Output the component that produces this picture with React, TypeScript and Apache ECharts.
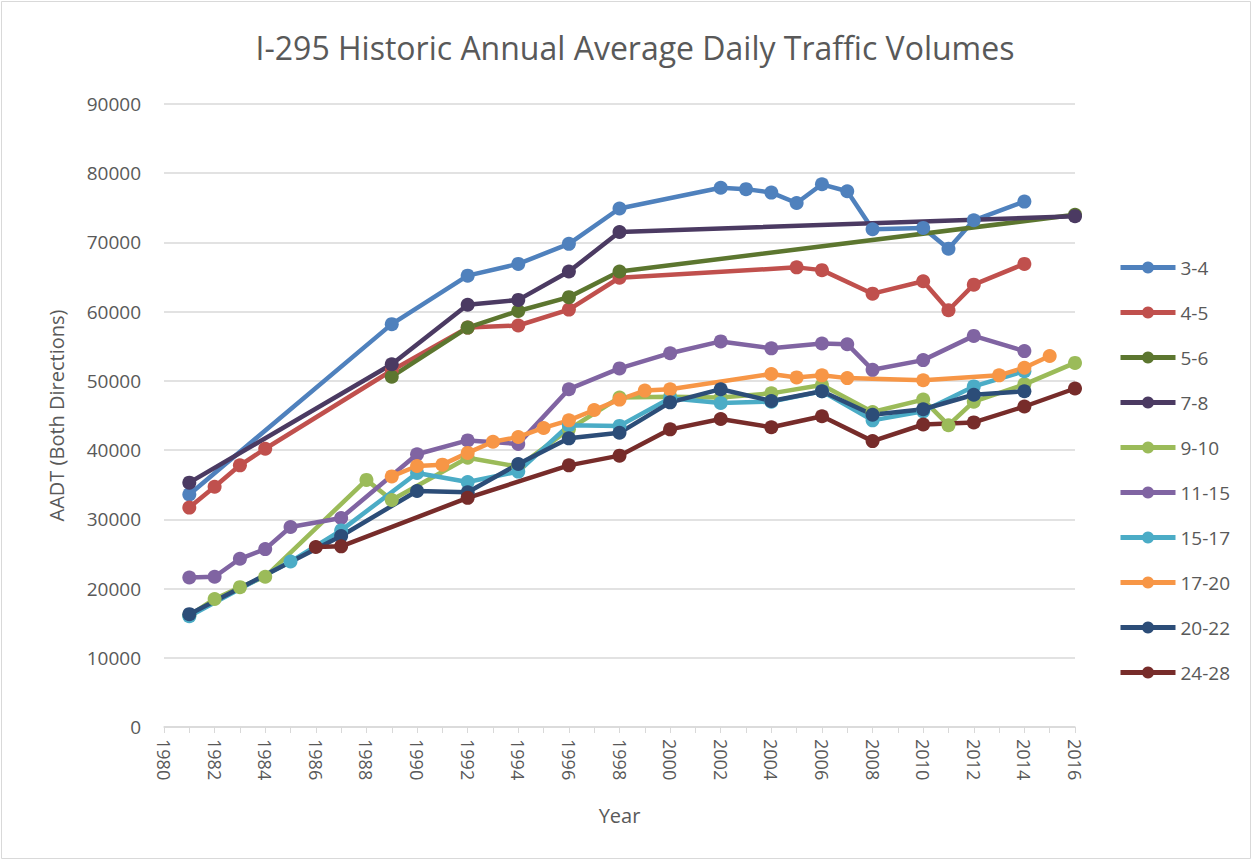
import React, { useEffect, useRef } from "react";
import * as echarts from "echarts";

const seriesNames = ["3-4", "4-5", "5-6", "7-8", "9-10", "11-15", "15-17", "17-20", "20-22", "24-28"];
const seriesColors = ["#4F81BD", "#C0504D", "#5C762F", "#4B3A62", "#9BBB59", "#8064A2", "#4BACC6", "#F79646", "#2C4D78", "#772C2A"];

const years34 = [1981, 1989, 1992, 1994, 1996, 1998, 2002, 2003, 2004, 2005, 2006, 2007, 2008, 2010, 2011, 2012, 2014];
const values34 = [33600, 58200, 65200, 66900, 69800, 74900, 77900, 77700, 77200, 75700, 78400, 77400, 71900, 72100, 69100, 73200, 75900];

const years45 = [1981, 1982, 1983, 1984, 1989, 1992, 1994, 1996, 1998, 2005, 2006, 2008, 2010, 2011, 2012, 2014];
const values45 = [31700, 34700, 37800, 40200, 51500, 57700, 58000, 60300, 64900, 66400, 66000, 62600, 64400, 60200, 63900, 66900];

const years56 = [1989, 1992, 1994, 1996, 1998, 2016];
const values56 = [50600, 57700, 60100, 62100, 65800, 74000];

const years78 = [1981, 1989, 1992, 1994, 1996, 1998, 2016];
const values78 = [35300, 52400, 61000, 61700, 65800, 71500, 73800];

const years910 = [1981, 1982, 1983, 1984, 1988, 1989, 1992, 1994, 1996, 1998, 2000, 2002, 2004, 2006, 2008, 2010, 2011, 2012, 2014, 2016];
const values910 = [16100, 18500, 20200, 21700, 35700, 32800, 38900, 37600, 43000, 47600, 47700, 47600, 48200, 49400, 45500, 47300, 43600, 47000, 49500, 52600];

const years1115 = [1981, 1982, 1983, 1984, 1985, 1987, 1990, 1992, 1994, 1996, 1998, 2000, 2002, 2004, 2006, 2007, 2008, 2010, 2012, 2014];
const values1115 = [21600, 21700, 24300, 25700, 28900, 30200, 39400, 41400, 40900, 48800, 51800, 54000, 55700, 54700, 55400, 55300, 51600, 53000, 56500, 54300];

const years1517 = [1981, 1985, 1987, 1990, 1992, 1994, 1996, 1998, 2000, 2002, 2004, 2006, 2008, 2010, 2012, 2014];
const values1517 = [16000, 23900, 28400, 36700, 35400, 36900, 43600, 43500, 47500, 46800, 47000, 48500, 44300, 45600, 49200, 51400];

const years1720 = [1989, 1990, 1991, 1992, 1993, 1994, 1995, 1996, 1997, 1998, 1999, 2000, 2004, 2005, 2006, 2007, 2010, 2013, 2014, 2015];
const values1720 = [36200, 37700, 37900, 39600, 41200, 41900, 43200, 44300, 45800, 47300, 48600, 48800, 51000, 50500, 50800, 50400, 50100, 50800, 51900, 53600];

const years2022 = [1981, 1987, 1990, 1992, 1994, 1996, 1998, 2000, 2002, 2004, 2006, 2008, 2010, 2012, 2014];
const values2022 = [16300, 27600, 34100, 33900, 38000, 41700, 42500, 46900, 48800, 47100, 48500, 45100, 45900, 48000, 48500];

const years2428 = [1986, 1987, 1992, 1996, 1998, 2000, 2002, 2004, 2006, 2008, 2010, 2012, 2014, 2016];
const values2428 = [26000, 26100, 33100, 37800, 39200, 43000, 44500, 43300, 44900, 41300, 43700, 44000, 46300, 48900];

const allYears = [years34, years45, years56, years78, years910, years1115, years1517, years1720, years2022, years2428];
const allValues = [values34, values45, values56, values78, values910, values1115, values1517, values1720, values2022, values2428];

const FONT = "'Open Sans', 'Noto Sans', sans-serif";
const GREY = "#595959";

export default function App() {
  const ref = useRef<HTMLDivElement>(null);
  useEffect(() => {
    document.body.style.margin = "0";
    if (!ref.current) return;
    const chart = echarts.init(ref.current, undefined, { renderer: "svg" });
    const series = seriesNames.map((name, i) => ({
      name,
      type: "line",
      data: allYears[i].map((y, j) => [y, allValues[i][j]]),
      symbol: "circle",
      symbolSize: 14,
      lineStyle: { width: 4.5, color: seriesColors[i] },
      itemStyle: { color: seriesColors[i] },
      emphasis: { disabled: true },
    }));
    chart.setOption({
      animation: false,
      backgroundColor: "#ffffff",
      textStyle: { fontFamily: FONT },
      title: {
        text: "I-295 Historic Annual Average Daily Traffic Volumes",
        left: 630,
        top: 26,
        textAlign: "center",
        textStyle: { fontFamily: FONT, fontSize: 32, fontWeight: "normal", color: GREY },
      },
      legend: {
        orient: "vertical",
        left: 1113,
        top: 253,
        itemWidth: 55,
        itemHeight: 15,
        itemGap: 26,
        lineStyle: { width: 5 },
        textStyle: { fontFamily: FONT, fontSize: 19, color: GREY },
        data: seriesNames,
      },
      grid: { left: 164, right: 178, top: 104, bottom: 134, containLabel: false },
      xAxis: {
        type: "value",
        min: 1980,
        max: 2016,
        interval: 1,
        name: "Year",
        nameLocation: "middle",
        nameGap: 78,
        nameTextStyle: { fontFamily: FONT, fontSize: 20, color: GREY },
        axisLine: { show: true, lineStyle: { color: "#D9D9D9", width: 1.5 } },
        axisTick: { show: true, length: 6, lineStyle: { color: "#D9D9D9" } },
        splitLine: { show: false },
        axisLabel: {
          rotate: -90,
          margin: 12,
          fontFamily: FONT,
          fontSize: 18,
          color: GREY,
          formatter: (v: number) => (v % 2 === 0 ? String(v) : ""),
        },
      },
      yAxis: {
        type: "value",
        min: 0,
        max: 90000,
        interval: 10000,
        name: "AADT (Both Directions)",
        nameLocation: "middle",
        nameGap: 98,
        nameRotate: 90,
        nameTextStyle: { fontFamily: FONT, fontSize: 20, color: GREY },
        axisLine: { show: false },
        axisTick: { show: false },
        splitLine: { lineStyle: { color: "#D9D9D9", width: 1.5 } },
        axisLabel: {
          margin: 23,
          fontFamily: FONT,
          fontSize: 19,
          color: GREY,
          formatter: (v: number) => String(v),
        },
      },
      graphic: [
        {
          type: "rect",
          shape: { x: 1.5, y: 1.5, width: 1249, height: 857 },
          style: { fill: "none", stroke: "#D9D9D9", lineWidth: 1 },
          silent: true,
        },
      ],
      series,
    });
    return () => chart.dispose();
  }, []);
  return <div ref={ref} style={{ width: 1253, height: 861 }} />;
}
